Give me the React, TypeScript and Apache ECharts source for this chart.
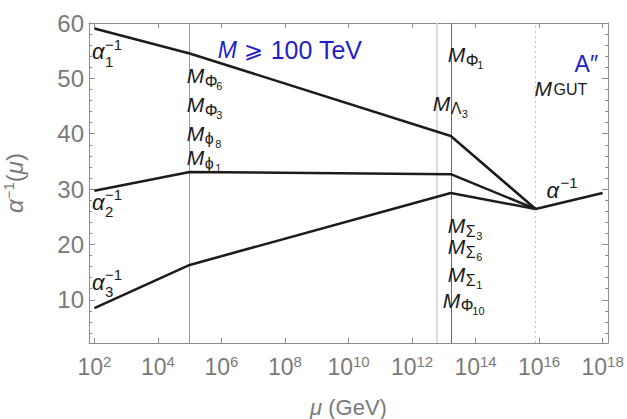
import React, { useEffect, useRef } from "react";
import * as echarts from "echarts";

// log10(mu / GeV) break points
const logMu = [2, 5, 13.22, 15.89];
const alpha1Inv = [59.0, 54.5, 39.6, 26.4];
const alpha2Inv = [29.7, 33.1, 32.7, 26.4];
const alpha3Inv = [8.5, 16.3, 29.3, 26.4];
const unifiedLogMu = [15.89, 18];
const unifiedInv = [26.4, 29.3];

const xTickExps = [2, 4, 6, 8, 10, 12, 14, 16, 18];
const yTickVals = [10, 20, 30, 40, 50, 60];
const yMinorVals = [4, 6, 8, 12, 14, 16, 18, 22, 24, 26, 28, 32, 34, 36, 38, 42, 44, 46, 48, 52, 54, 56, 58];

const M_LOW = 5;
const M_LAMBDA = 12.78;
const M_PHI1 = 13.22;
const M_GUT = 15.89;

const X_MIN = 1.83;
const X_MAX = 18.17;
const Y_MIN = 2.2;
const Y_MAX = 60;

const FONT = "'Liberation Sans', Arial, 'DejaVu Sans', sans-serif";
const GRAY = "#7a7a7a";
const FRAME = "#8c8c8c";
const LINE = "#1c1c1c";
const BLUE = "#1f1fc8";

type Part = { t: string; dx: number; dy: number; size: number; italic?: boolean; color?: string };
type Label = { at: [number, number]; ox: number; parts: Part[] };

const mSub = (greek: string, digits: string, gw = 11.5): Part[] => [
  { t: "M", dx: 0, dy: 0, size: 21, italic: true },
  { t: greek, dx: 18, dy: 4, size: 16 },
  { t: digits, dx: 18 + gw, dy: 7, size: 11 },
];
const alphaLabel = (sub: string): Part[] => [
  { t: "α", dx: 0, dy: 0, size: 22, italic: true },
  { t: "−1", dx: 13, dy: -10, size: 15 },
  { t: sub, dx: 13, dy: 7, size: 15 },
];

const labels: Label[] = [
  { at: [X_MIN, 53.4], ox: 3, parts: alphaLabel("1") },
  { at: [X_MIN, 26.2], ox: 3, parts: alphaLabel("2") },
  { at: [X_MIN, 11.8], ox: 3, parts: alphaLabel("3") },
  {
    at: [M_GUT, 28.4], ox: 11, parts: [
      { t: "α", dx: 0, dy: 0, size: 22, italic: true },
      { t: "−1", dx: 14, dy: -10, size: 15 },
    ],
  },
  { at: [M_LOW, 49.1], ox: -3, parts: mSub("Φ", "6") },
  { at: [M_LOW, 43.9], ox: -3, parts: mSub("Φ", "3") },
  { at: [M_LOW, 38.8], ox: -3, parts: mSub("ϕ", "8", 10.5) },
  { at: [M_LOW, 34.3], ox: -3, parts: mSub("ϕ", "1", 10.5) },
  { at: [M_PHI1, 52.9], ox: -3, parts: mSub("Φ", "1") },
  { at: [M_PHI1, 44.2], ox: -18, parts: mSub("Λ", "3", 11) },
  { at: [M_PHI1, 22.1], ox: -3, parts: mSub("Σ", "3", 10.5) },
  { at: [M_PHI1, 18.3], ox: -3, parts: mSub("Σ", "6", 10.5) },
  { at: [M_PHI1, 13.2], ox: -3, parts: mSub("Σ", "1", 10.5) },
  { at: [M_PHI1, 8.6], ox: -8, parts: mSub("Φ", "10") },
  {
    at: [M_GUT, 46.9], ox: -1, parts: [
      { t: "M", dx: 0, dy: 0, size: 21, italic: true },
      { t: "GUT", dx: 19, dy: 0, size: 16 },
    ],
  },
  { at: [M_GUT, 51.1], ox: 39, parts: [{ t: "A″", dx: 0, dy: 0, size: 23, color: BLUE }] },
  {
    at: [M_LOW, 53.6], ox: 28, parts: [
      { t: "M", dx: 0, dy: 0, size: 23, italic: true, color: BLUE },
      { t: "⩾", dx: 26, dy: 0, size: 23, color: BLUE },
      { t: "100 TeV", dx: 53, dy: 0, size: 25, color: BLUE },
    ],
  },
];

const pairs = (xs: number[], ys: number[]) => xs.map((x, i) => [x, ys[i]]);

export default function App() {
  const ref = useRef<HTMLDivElement>(null);
  useEffect(() => {
    if (!ref.current) return;
    const chart = echarts.init(ref.current, undefined, { renderer: "svg" });
    const lineSeries = (name: string, data: number[][]) => ({
      name,
      type: "line",
      data,
      symbol: "none",
      lineStyle: { color: LINE, width: 2.5 },
      z: 5,
    });
    const tickAxisX = (position: string, show: boolean) => ({
      type: "value",
      position,
      min: X_MIN,
      max: X_MAX,
      axisLine: { show: true, lineStyle: { color: FRAME, width: 1 } },
      axisTick: { show: true, inside: true, length: 5, customValues: xTickExps, lineStyle: { color: FRAME } },
      axisLabel: show
        ? {
            show: true,
            customValues: xTickExps,
            margin: 11,
            formatter: (v: number) => `{b|10}{s|${Math.round(v)}}`,
            rich: {
              b: { fontSize: 23, color: GRAY, fontFamily: FONT, lineHeight: 26 },
              s: { fontSize: 15, color: GRAY, fontFamily: FONT, verticalAlign: "top", lineHeight: 15 },
            },
          }
        : { show: false },
      splitLine: { show: false },
    });
    const tickAxisY = (position: string, vals: number[], len: number, show: boolean, line: boolean) => ({
      type: "value",
      position,
      min: Y_MIN,
      max: Y_MAX,
      axisLine: { show: line, lineStyle: { color: FRAME, width: 1 } },
      axisTick: { show: true, inside: true, length: len, customValues: vals, lineStyle: { color: FRAME } },
      axisLabel: show
        ? { show: true, customValues: vals, fontSize: 24, color: GRAY, fontFamily: FONT, margin: 5 }
        : { show: false },
      splitLine: { show: false },
    });

    const option: any = {
      animation: false,
      backgroundColor: "#ffffff",
      grid: { left: 89, right: 19, top: 23, bottom: 76, containLabel: false, outerBoundsMode: "none" },
      xAxis: [
        {
          ...tickAxisX("bottom", true),
          name: "{i|μ} (GeV)",
          nameLocation: "middle",
          nameGap: 53,
          nameTextStyle: {
            rich: {
              i: { fontSize: 22, fontStyle: "italic", color: GRAY, fontFamily: FONT },
            },
            fontSize: 22,
            color: GRAY,
            fontFamily: FONT,
          },
        },
        tickAxisX("top", false),
      ],
      yAxis: [
        {
          ...tickAxisY("left", yTickVals, 6, true, true),
          name: "{a|α}{s|−1}{b|(}{a|μ}{b|)}",
          nameLocation: "middle",
          nameRotate: 90,
          nameGap: 62,
          nameTextStyle: {
            rich: {
              a: { fontSize: 24, fontStyle: "italic", color: GRAY, fontFamily: FONT, lineHeight: 26 },
              b: { fontSize: 24, color: GRAY, fontFamily: FONT, lineHeight: 26 },
              s: { fontSize: 15, color: GRAY, fontFamily: FONT, verticalAlign: "top", lineHeight: 15 },
            },
          },
        },
        tickAxisY("left", yMinorVals, 3, false, false),
        tickAxisY("right", yTickVals, 6, false, true),
        tickAxisY("right", yMinorVals, 3, false, false),
      ],
      series: [
        lineSeries("alpha1", pairs(logMu, alpha1Inv)),
        lineSeries("alpha2", pairs(logMu, alpha2Inv)),
        lineSeries("alpha3", pairs(logMu, alpha3Inv)),
        lineSeries("unified", pairs(unifiedLogMu, unifiedInv)),
        {
          name: "thresholds",
          type: "line",
          data: [],
          z: 2,
          markLine: {
            silent: true,
            symbol: ["none", "none"],
            label: { show: false },
            animation: false,
            data: [
              { xAxis: M_LOW, lineStyle: { color: "#9a9a9a", width: 1, type: "solid" } },
              { xAxis: M_LAMBDA, lineStyle: { color: "#d2d2d2", width: 1.5, type: "solid" } },
              { xAxis: M_PHI1, lineStyle: { color: "#6a6a6a", width: 1, type: "solid" } },
              { xAxis: M_GUT, lineStyle: { color: "#c4c4c4", width: 1, type: [2, 3] } },
            ],
          },
        },
      ],
    };
    chart.setOption(option);

    const graphics: any[] = [];
    labels.forEach((l) => {
      const p = chart.convertToPixel({ seriesIndex: 0 }, l.at) as number[];
      if (!p) return;
      l.parts.forEach((pt) => {
        graphics.push({
          type: "text",
          x: p[0] + l.ox + pt.dx,
          y: p[1] + pt.dy - 0.35 * pt.size,
          z: 20,
          silent: true,
          style: {
            text: pt.t,
            fontSize: pt.size,
            fontStyle: pt.italic ? "italic" : "normal",
            fontFamily: FONT,
            fill: pt.color || "#1a1a1a",
            align: "left",
            verticalAlign: "middle",
            textAlign: "left",
            textVerticalAlign: "middle",
          },
        });
      });
    });
    chart.setOption({ graphic: graphics });

    return () => chart.dispose();
  }, []);
  return (
    <div
      ref={ref}
      style={{ position: "fixed", left: 0, top: 0, width: 627, height: 419, background: "#fff" }}
    />
  );
}
